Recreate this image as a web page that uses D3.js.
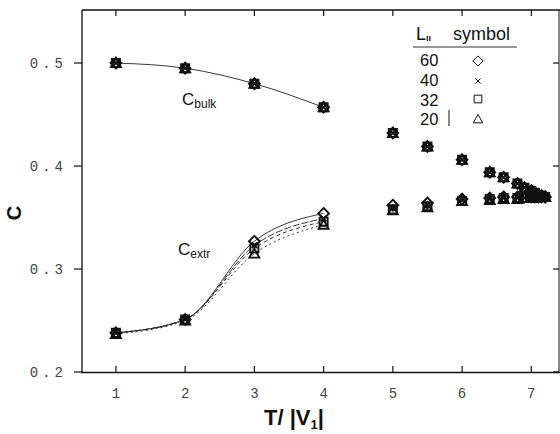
<!DOCTYPE html>
<html>
<head>
<meta charset="utf-8">
<script src="https://cdn.jsdelivr.net/npm/d3@7"></script>
<style>
  body { margin: 0; background: #fff; }
  svg { display: block; }
  .tick-label { font-family: "Liberation Mono", "DejaVu Sans Mono", monospace; font-size: 14px; fill: #444; letter-spacing: 4px; }
  .legend { font-family: "Liberation Sans", Arial, sans-serif; font-size: 18px; fill: #111; }
  .legend-num { font-family: "Liberation Sans", Arial, sans-serif; font-size: 16.5px; fill: #111; }
</style>
</head>
<body>
<div class="chart"></div>
<script>
// ---- data ----
const T = [1, 2, 3, 4, 5, 5.5, 6, 6.4, 6.6, 6.8, 6.9, 7.0, 7.05, 7.1, 7.15, 7.2];
const cBulk = [0.500, 0.495, 0.480, 0.457, 0.432, 0.419, 0.406, 0.394, 0.389, 0.383, 0.379, 0.376, 0.374, 0.372, 0.371, 0.370];
const cExtr60 = [0.238, 0.251, 0.327, 0.354, 0.362, 0.364, 0.368, 0.369, 0.370, 0.370, 0.370, 0.370, 0.370, 0.370, 0.370, 0.370];
const cExtr40 = [0.238, 0.251, 0.323, 0.349, 0.359, 0.362, 0.367, 0.368, 0.369, 0.369, 0.369, 0.370, 0.370, 0.370, 0.370, 0.370];
const cExtr32 = [0.238, 0.251, 0.320, 0.346, 0.358, 0.361, 0.366, 0.368, 0.369, 0.369, 0.369, 0.369, 0.370, 0.370, 0.370, 0.370];
const cExtr20 = [0.237, 0.250, 0.315, 0.343, 0.357, 0.360, 0.366, 0.367, 0.368, 0.368, 0.369, 0.369, 0.369, 0.370, 0.370, 0.370];
const sizes = ["60", "40", "32", "20"];
const xTicks = [1, 2, 3, 4, 5, 6, 7];
const yTicks = [0.2, 0.3, 0.4, 0.5];
const nCurve = 4; // fitted curves only through T <= 4

const extrBySize = { "60": cExtr60, "40": cExtr40, "32": cExtr32, "20": cExtr20 };
const dashBySize = { "60": null, "40": "7,2", "32": "4,3", "20": "2,3" };

let width = 560, height = 434;

let svg = d3.select(".chart").append("svg")
    .attr("width", width)
    .attr("height", height);

let xScale = d3.scaleLinear().domain([0.51, 7.4]).range([82, 559]);
let yScale = d3.scaleLinear().domain([0.2, 0.5515]).range([372, 10]);

// symbol paths (outline markers like the plot)
function marker(size, s) {
    if (size === "60") return `M0,${-6*s}L${6*s},0L0,${6*s}L${-6*s},0Z`;
    if (size === "40") return `M${-3*s},${-3*s}L${3*s},${3*s}M${-3*s},${3*s}L${3*s},${-3*s}`;
    if (size === "32") return `M${-4.5*s},${-4.5*s}h${9*s}v${9*s}h${-9*s}Z`;
    return `M0,${-5.5*s}L${5.5*s},${4.5*s}L${-5.5*s},${4.5*s}Z`;
}

// ==== axes ====
const frame = svg.append("g").attr("stroke", "#111").attr("fill", "none");
frame.append("line").attr("x1", 82).attr("x2", 82).attr("y1", 10).attr("y2", 373).attr("stroke-width", 1.3);
frame.append("line").attr("x1", 81).attr("x2", 560).attr("y1", 372.5).attr("y2", 372.5).attr("stroke-width", 1.6);
frame.append("line").attr("x1", 82).attr("x2", 560).attr("y1", 10).attr("y2", 10).attr("stroke-width", 1.3);
frame.append("line").attr("x1", 559).attr("x2", 559).attr("y1", 10).attr("y2", 373).attr("stroke-width", 1);

xTicks.forEach(t => {
    const x = xScale(t);
    frame.append("line").attr("x1", x).attr("x2", x).attr("y1", 372).attr("y2", 366).attr("stroke-width", 1.2);
    frame.append("line").attr("x1", x).attr("x2", x).attr("y1", 10).attr("y2", 16).attr("stroke-width", 1.2);
    svg.append("text").attr("class", "tick-label")
        .attr("x", x + 2).attr("y", 398).attr("text-anchor", "middle").text(t);
});
yTicks.forEach(v => {
    const y = yScale(v);
    frame.append("line").attr("x1", 74).attr("x2", 82).attr("y1", y).attr("y2", y).attr("stroke-width", 1.2);
    frame.append("line").attr("x1", 553).attr("x2", 559).attr("y1", y).attr("y2", y).attr("stroke-width", 1.2);
    svg.append("text").attr("class", "tick-label")
        .attr("x", 67).attr("y", y + 5).attr("text-anchor", "end").text(v.toFixed(1));
});

// axis titles
svg.append("text")
    .attr("transform", "translate(21,213) rotate(-90)")
    .attr("text-anchor", "middle")
    .attr("font-family", "Liberation Sans, Arial, sans-serif")
    .attr("font-weight", "bold").attr("font-size", 20).attr("fill", "#111")
    .text("C");

const xt = svg.append("text")
    .attr("x", 294).attr("y", 425).attr("text-anchor", "middle")
    .attr("font-family", "Liberation Sans, Arial, sans-serif")
    .attr("font-weight", "bold").attr("font-size", 22).attr("fill", "#111");
xt.append("tspan").text("T/ |V");
xt.append("tspan").attr("font-size", 13).attr("dy", 4).text("1");
xt.append("tspan").attr("dy", -4).text("|");

// ==== curves ====
const line = d3.line()
    .x(d => xScale(d[0]))
    .y(d => yScale(d[1]))
    .curve(d3.curveMonotoneX);

svg.append("path")
    .datum(T.slice(0, nCurve).map((t, i) => [t, cBulk[i]]))
    .attr("d", line)
    .attr("fill", "none").attr("stroke", "#222").attr("stroke-width", 0.9);

sizes.forEach(s => {
    svg.append("path")
        .datum(T.slice(0, nCurve).map((t, i) => [t, extrBySize[s][i]]))
        .attr("d", line)
        .attr("fill", "none").attr("stroke", "#222").attr("stroke-width", 0.9)
        .attr("stroke-dasharray", dashBySize[s]);
});

// ==== points ====
sizes.forEach(s => {
    const g = svg.append("g").attr("fill", "none").attr("stroke", "#111").attr("stroke-width", 1.9);
    g.selectAll(".bulk").data(T.map((t, i) => [t, cBulk[i]]))
        .join("path")
        .attr("transform", d => `translate(${xScale(d[0])},${yScale(d[1])})`)
        .attr("d", marker(s, 0.9));
    g.selectAll(".extr").data(T.map((t, i) => [t, extrBySize[s][i]]))
        .join("path")
        .attr("transform", d => `translate(${xScale(d[0])},${yScale(d[1])})`)
        .attr("d", marker(s, 0.9));
});

// ==== curve labels ====
const lb = svg.append("text").attr("x", 182).attr("y", 105)
    .attr("font-family", "Liberation Sans, Arial, sans-serif").attr("font-size", 17).attr("fill", "#111");
lb.append("tspan").text("C");
lb.append("tspan").attr("font-size", 12).attr("dy", 3).text("bulk");

const le = svg.append("text").attr("x", 178).attr("y", 255)
    .attr("font-family", "Liberation Sans, Arial, sans-serif").attr("font-size", 17).attr("fill", "#111");
le.append("tspan").text("C");
le.append("tspan").attr("font-size", 12).attr("dy", 3).text("extr");

// ==== legend ====
const lg = svg.append("g");
const hdr = lg.append("text").attr("class", "legend").attr("x", 416).attr("y", 40);
hdr.append("tspan").text("L");
hdr.append("tspan").attr("font-size", 9).attr("font-weight", "bold").attr("dy", 1).text("ıı");
lg.append("text").attr("class", "legend").attr("x", 453).attr("y", 40).text("symbol");
lg.append("line").attr("x1", 413).attr("x2", 517).attr("y1", 47).attr("y2", 47)
    .attr("stroke", "#333").attr("stroke-width", 1.2);

const rowY = [66, 86, 106, 125];
const symY = [61, 81, 99, 119];
sizes.forEach((s, i) => {
    lg.append("text").attr("class", "legend-num").attr("x", 420).attr("y", rowY[i]).text(s);
    lg.append("path")
        .attr("transform", `translate(478,${symY[i]})`)
        .attr("d", marker(s, 0.85))
        .attr("fill", "none").attr("stroke", "#111").attr("stroke-width", 1);
});
lg.append("line").attr("x1", 449).attr("x2", 449).attr("y1", 110).attr("y2", 126)
    .attr("stroke", "#111").attr("stroke-width", 1);
</script>
</body>
</html>
